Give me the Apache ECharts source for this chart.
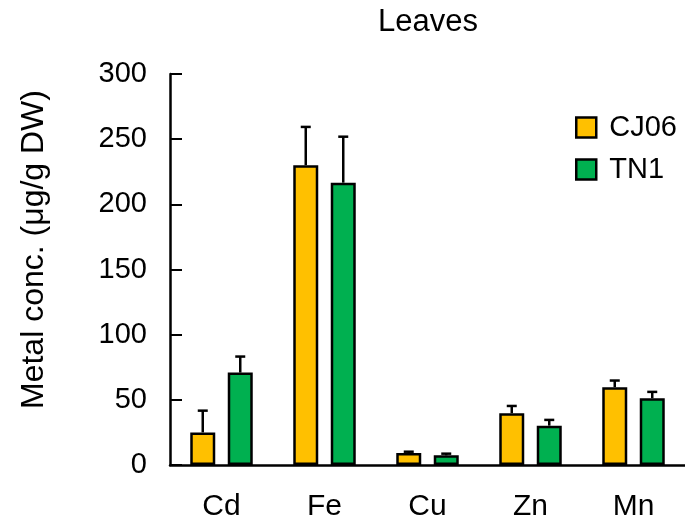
<!DOCTYPE html>
<html>
<head>
<meta charset="utf-8">
<script src="https://cdn.jsdelivr.net/npm/echarts@6/dist/echarts.min.js"></script>
<style>
  html, body { margin: 0; padding: 0; background: #fff; }
  #chart { width: 685px; height: 522px; }
</style>
</head>
<body>
<div id="chart"></div>
<script>
// 金属元素
const metals = ["Cd", "Fe", "Cu", "Zn", "Mn"];
// 各品种均值
const cj06Values = [25, 230, 9.2, 39.7, 59.7];
const tn1Values = [70.9, 216.6, 7.4, 30.2, 51.2];
// 误差（上方）
const cj06Errors = [16.7, 29.4, 1.0, 5.6, 5.1];
const tn1Errors = [12.3, 35.3, 1.3, 4.4, 4.9];
const yTicks = [0, 50, 100, 150, 200, 250, 300];

const FONT = "Liberation Sans, Arial, sans-serif";
const BAR_W = 25;
const OFFSET = 18.75; // 两根柱中心到类目中心的距离

// 误差线
function errorSeries(name, values, errors, dir) {
    return {
        type: "custom",
        name: name + "-err",
        z: 1,
        silent: true,
        data: values.map((v, i) => [i, v, v + errors[i]]),
        renderItem: function (params, api) {
            const low = api.coord([api.value(0), api.value(1)]);
            const high = api.coord([api.value(0), api.value(2)]);
            const x = low[0] + dir * OFFSET;
            const cap = 5;
            return {
                type: "group",
                children: [
                    { type: "line", shape: { x1: x, y1: low[1], x2: x, y2: high[1] },
                      style: { stroke: "#000", lineWidth: 2.5 } },
                    { type: "line", shape: { x1: x - cap, y1: high[1], x2: x + cap, y2: high[1] },
                      style: { stroke: "#000", lineWidth: 2.5 } }
                ]
            };
        }
    };
}

const option = {
    animation: false,
    title: {
        text: "Leaves",
        left: 373,
        top: 2,
        textStyle: { fontFamily: FONT, fontSize: 31, fontWeight: "normal", color: "#000" }
    },
    legend: {
        data: ["CJ06", "TN1"],
        orient: "vertical",
        left: 570,
        top: 108,
        itemWidth: 20,
        itemHeight: 20,
        itemGap: 13,
        icon: "rect",
        textStyle: { fontFamily: FONT, fontSize: 29, color: "#000", padding: [0, 0, 0, 8] },
        itemStyle: { borderColor: "#000", borderWidth: 2.5 }
    },
    grid: { left: 170, right: -7.5, top: 74, bottom: 57 },
    xAxis: {
        type: "category",
        data: metals,
        axisLine: { lineStyle: { color: "#000", width: 2.5 } },
        axisTick: { inside: true, length: 12, lineStyle: { color: "#000", width: 1.5 } },
        axisLabel: { fontFamily: FONT, fontSize: 30, color: "#000", margin: 27 }
    },
    yAxis: {
        type: "value",
        min: yTicks[0],
        max: yTicks[yTicks.length - 1],
        interval: 50,
        name: "Metal conc. (μg/g DW)",
        nameLocation: "middle",
        nameGap: 120,
        nameTextStyle: { fontFamily: FONT, fontSize: 32, color: "#000", padding: [0, 0, 0, 40] },
        axisLine: { show: true, lineStyle: { color: "#000", width: 2.5 } },
        axisTick: { show: true, inside: true, length: 12, lineStyle: { color: "#000", width: 2 } },
        axisLabel: { fontFamily: FONT, fontSize: 29, color: "#000", margin: 23 },
        splitLine: { show: false }
    },
    series: [
        {
            name: "CJ06",
            type: "bar",
            barWidth: BAR_W,
            barGap: "50%",
            data: cj06Values,
            z: 2,
            itemStyle: { color: "#FFC000", borderColor: "#000", borderWidth: 2.5 }
        },
        {
            name: "TN1",
            type: "bar",
            barWidth: BAR_W,
            barGap: "50%",
            data: tn1Values,
            z: 2,
            itemStyle: { color: "#00B050", borderColor: "#000", borderWidth: 2.5 }
        },
        errorSeries("CJ06", cj06Values, cj06Errors, -1),
        errorSeries("TN1", tn1Values, tn1Errors, 1)
    ]
};

const chart = echarts.init(document.getElementById("chart"));
chart.setOption(option);
</script>
</body>
</html>
